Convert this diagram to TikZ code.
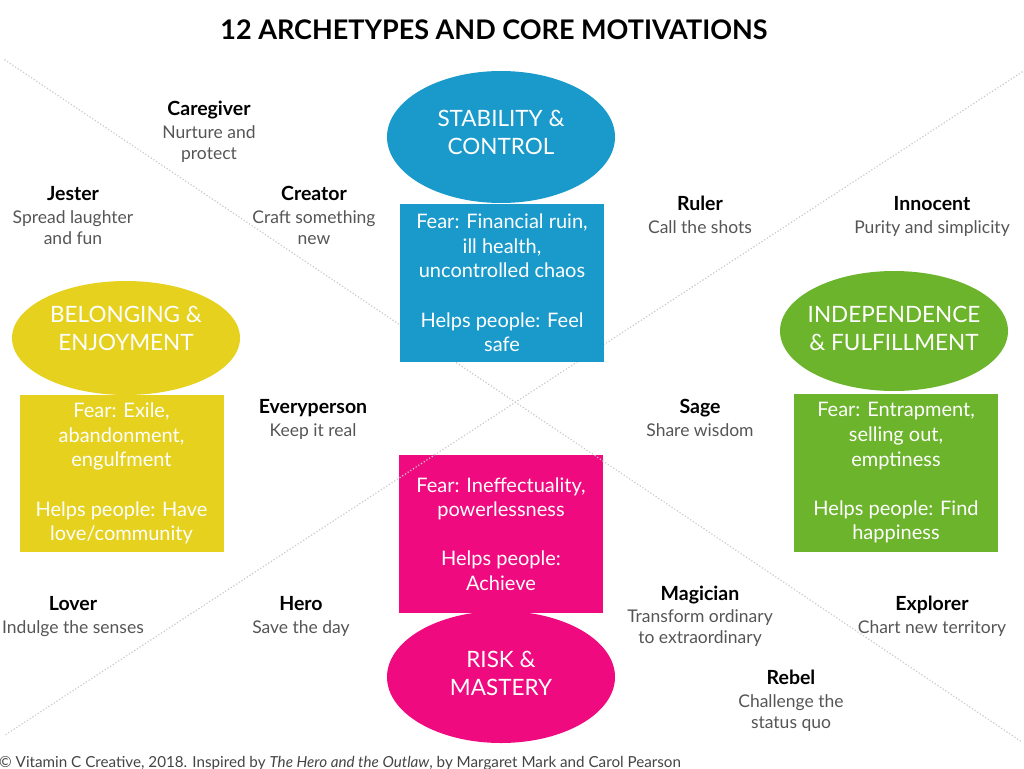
\documentclass[tikz,border=0pt]{standalone}
\usepackage{fontspec}
\setmainfont{Lato}
\usetikzlibrary{shapes.geometric}
\definecolor{cblue}{HTML}{1A9ACB}
\definecolor{cyellow}{HTML}{E6D11E}
\definecolor{cgreen}{HTML}{6BB42C}
\definecolor{cpink}{HTML}{EF0A80}
\definecolor{descgray}{HTML}{555555}
\definecolor{footgray}{HTML}{444444}
\definecolor{dotgray}{HTML}{CACACA}
\tikzset{
  motive/.style={ellipse, draw=none, inner sep=0pt, minimum width=228pt},
  motivetext/.style={text=white, align=center, inner sep=0pt, font=\fontsize{22.5}{28}\selectfont},
  fearbox/.style={rectangle, draw=none, inner sep=0pt, minimum width=204pt, minimum height=158pt, text=white, align=center, font=\fontsize{20}{24.6}\selectfont},
  archname/.style={anchor=base, inner sep=0pt, font=\fontsize{19.5}{22}\selectfont\bfseries},
  archdesc/.style={anchor=base, inner sep=0pt, text=descgray, font=\fontsize{17.5}{20}\selectfont},
  divider/.style={draw=dotgray, line width=1.7pt, line cap=round, dash pattern=on 0pt off 3.2pt}
}
\begin{document}
\begin{tikzpicture}[x=1pt,y=-1pt]
\useasboundingbox (0,0) rectangle (1024,768);

% Title
\node[font=\bfseries\fontsize{27}{30}\selectfont, inner sep=0pt] (title) at (494,30) {12 ARCHETYPES AND CORE MOTIVATIONS};

% Risk & Mastery (under the dividers)
\node[motive, fill=cpink, minimum height=132pt] (risk) at (501,677) {};
\node[fearbox, fill=cpink] (riskbox) at (501,534) {Fear: Ineffectuality,\\powerlessness\\[24.6pt]Helps people:\\Achieve};
\node[motivetext] (risktext) at (501,673) {RISK \&\\MASTERY};

% Dividers
\coordinate (tl) at (5,60);
\coordinate (br) at (1022,742);
\coordinate (tr) at (1022,72);
\coordinate (bl) at (5,735);
\draw[divider] (tl) -- (br);
\draw[divider] (tr) -- (bl);

% Stability & Control
\node[motive, fill=cblue, minimum height=132pt] (stab) at (501,137) {};
\node[motivetext] (stabtext) at (501,132) {STABILITY \&\\CONTROL};
\node[fearbox, fill=cblue] (stabbox) at (502,283) {Fear: Financial ruin,\\ill health,\\uncontrolled chaos\\[24.6pt]Helps people: Feel\\safe};

% Belonging & Enjoyment
\node[motive, fill=cyellow, minimum height=114pt] (belong) at (126,338) {};
\node[motivetext] (belongtext) at (126,328) {BELONGING \&\\ENJOYMENT};
\node[fearbox, fill=cyellow, minimum height=157pt] (belongbox) at (121.5,473.5) {Fear: Exile,\\abandonment,\\engulfment\\[24.6pt]Helps people: Have\\love/community};

% Independence & Fulfillment
\node[motive, fill=cgreen, minimum height=120pt] (indep) at (894,331) {};
\node[motivetext] (indeptext) at (894,328) {INDEPENDENCE\\\& FULFILLMENT};
\node[fearbox, fill=cgreen] (indepbox) at (896,473) {Fear: Entrapment,\\selling out,\\emptiness\\[24.6pt]Helps people: Find\\happiness};

% Archetypes
\node[archname] (caregiver) at (209,115) {Caregiver};
\node[archdesc] (caregiver1) at (209,138) {Nurture and};
\node[archdesc] (caregiver2) at (209,159) {protect};

\node[archname] (jester) at (73,200) {Jester};
\node[archdesc] (jester1) at (73,223) {Spread laughter};
\node[archdesc] (jester2) at (73,244) {and fun};

\node[archname] (creator) at (314,200) {Creator};
\node[archdesc] (creator1) at (314,223) {Craft something};
\node[archdesc] (creator2) at (314,244) {new};

\node[archname] (ruler) at (700,210) {Ruler};
\node[archdesc] (ruler1) at (700,233) {Call the shots};

\node[archname] (innocent) at (932,210) {Innocent};
\node[archdesc] (innocent1) at (932,233) {Purity and simplicity};

\node[archname] (everyperson) at (313,413) {Everyperson};
\node[archdesc] (everyperson1) at (313,436) {Keep it real};

\node[archname] (sage) at (700,413) {Sage};
\node[archdesc] (sage1) at (700,436) {Share wisdom};

\node[archname] (lover) at (73,610) {Lover};
\node[archdesc] (lover1) at (73,633) {Indulge the senses};

\node[archname] (hero) at (301,610) {Hero};
\node[archdesc] (hero1) at (301,633) {Save the day};

\node[archname] (magician) at (700,600) {Magician};
\node[archdesc] (magician1) at (700,622) {Transform ordinary};
\node[archdesc] (magician2) at (700,643) {to extraordinary};

\node[archname] (explorer) at (932,610) {Explorer};
\node[archdesc] (explorer1) at (932,633) {Chart new territory};

\node[archname] (rebel) at (791,684) {Rebel};
\node[archdesc] (rebel1) at (791,707) {Challenge the};
\node[archdesc] (rebel2) at (791,728) {status quo};

% Footer
\node[anchor=base west, inner sep=0pt, text=footgray, font=\fontsize{15.2}{18}\selectfont] (footer) at (-1,767) {© Vitamin C Creative, 2018. Inspired by \textit{The Hero and the Outlaw}, by Margaret Mark and Carol Pearson};
\end{tikzpicture}
\end{document}
